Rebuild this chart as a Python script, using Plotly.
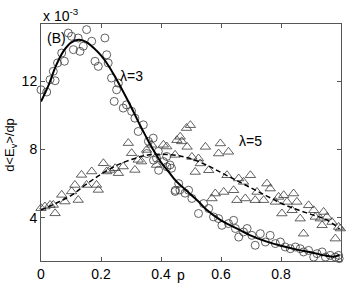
import plotly.graph_objects as go

# lambda = 3 fitted curve (units of 1e-3)
fit3_p = [0, 0.025, 0.05, 0.075, 0.1, 0.125, 0.15, 0.175, 0.2, 0.225, 0.25, 0.275, 0.3, 0.325,
          0.35, 0.375, 0.4, 0.425, 0.45, 0.475, 0.5, 0.525, 0.55, 0.6, 0.65, 0.7, 0.75, 0.8,
          0.85, 0.9, 0.95, 0.975, 0.995]
fit3_y = [10.8, 11.75, 12.9, 13.75, 14.25, 14.42, 14.3, 13.95, 13.5, 12.9, 12.15, 11.35, 10.5, 9.6,
          8.75, 7.95, 7.25, 6.7, 6.15, 5.75, 5.35, 4.95, 4.5, 3.85, 3.4, 2.95, 2.62, 2.36,
          2.15, 1.98, 1.78, 1.72, 1.82]

# lambda = 5 fitted curve
fit5_p = [0, 0.05, 0.1, 0.15, 0.2, 0.25, 0.3, 0.35, 0.4, 0.45, 0.5, 0.55, 0.6, 0.65, 0.7, 0.75,
          0.8, 0.85, 0.9, 0.95, 0.995]
fit5_y = [4.45, 4.85, 5.3, 5.95, 6.55, 7.05, 7.4, 7.65, 7.72, 7.65, 7.45, 7.1, 6.65, 6.2, 5.75,
          5.3, 4.85, 4.5, 4.2, 3.9, 3.35]

# lambda = 3 simulation data (circles)
sim3_p = [0.000, 0.019, 0.030, 0.047, 0.041, 0.055, 0.069, 0.078, 0.091, 0.102, 0.124, 0.108,
          0.130, 0.141, 0.152, 0.163, 0.169, 0.180, 0.191, 0.213, 0.219, 0.224, 0.235, 0.252,
          0.258, 0.244, 0.274, 0.285, 0.302, 0.313, 0.324, 0.341, 0.358, 0.374, 0.385, 0.391,
          0.408, 0.419, 0.430, 0.435, 0.447, 0.463, 0.480, 0.353, 0.375, 0.392, 0.420, 0.448,
          0.459, 0.492, 0.503, 0.525, 0.542, 0.559, 0.575, 0.592, 0.603, 0.625, 0.642, 0.648,
          0.659, 0.675, 0.687, 0.703, 0.714, 0.731, 0.748, 0.764, 0.781, 0.798, 0.814, 0.831,
          0.848, 0.864, 0.875, 0.892, 0.909, 0.920, 0.937, 0.948, 0.964, 0.981, 0.994, 0.992]
sim3_y = [11.49, 11.36, 12.08, 12.02, 12.57, 13.06, 13.64, 13.16, 14.81, 14.62, 14.52, 13.84,
          13.74, 14.04, 15.01, 15.38, 14.33, 13.16, 12.86, 14.52, 13.54, 13.06, 12.18, 11.49,
          11.88, 10.81, 10.42, 10.61, 10.23, 9.83, 9.05, 9.44, 8.47, 8.66, 7.49, 7.88,
          7.29, 7.59, 7.09, 6.90, 5.54, 5.63, 5.44, 7.76, 7.37, 6.78, 6.98, 5.61,
          6.00, 5.61, 5.13, 4.25, 4.83, 4.54, 4.05, 3.95, 3.56, 3.66, 3.85, 3.37,
          2.87, 3.17, 3.37, 2.97, 2.39, 3.07, 2.58, 2.97, 2.49, 2.58, 2.29, 2.19,
          2.29, 2.19, 2.00, 2.09, 1.70, 1.90, 2.00, 1.70, 1.80, 1.70, 1.61, 1.80]

# lambda = 5 simulation data (triangles)
sim5_p = [0.000, 0.013, 0.030, 0.047, 0.041, 0.069, 0.080, 0.102, 0.113, 0.124, 0.135, 0.152,
          0.169, 0.185, 0.191, 0.208, 0.219, 0.230, 0.247, 0.258, 0.274, 0.291, 0.302, 0.313,
          0.324, 0.335, 0.352, 0.369, 0.385, 0.408, 0.419, 0.447, 0.469, 0.485, 0.498, 0.464,
          0.453, 0.548, 0.598, 0.487, 0.503, 0.525, 0.514, 0.531, 0.559, 0.592, 0.625, 0.570,
          0.581, 0.609, 0.620, 0.642, 0.653, 0.659, 0.675, 0.681, 0.698, 0.714, 0.720, 0.742,
          0.753, 0.764, 0.781, 0.792, 0.809, 0.803, 0.820, 0.837, 0.842, 0.853, 0.864, 0.875,
          0.892, 0.909, 0.914, 0.931, 0.942, 0.953, 0.937, 0.970, 0.981, 0.992, 0.998]
sim5_y = [4.56, 4.66, 4.75, 4.26, 4.75, 5.34, 4.95, 5.54, 5.92, 5.04, 6.51, 5.92,
          6.71, 5.92, 5.63, 7.19, 6.71, 6.80, 6.90, 6.61, 7.00, 8.37, 7.78, 6.80,
          7.39, 7.29, 7.97, 8.27, 7.09, 8.27, 8.17, 7.68, 8.47, 9.25, 9.42, 8.74,
          8.54, 8.15, 8.35, 8.15, 7.56, 7.47, 6.68, 7.18, 6.78, 7.76, 7.86, 5.13,
          5.42, 5.51, 6.49, 5.61, 5.03, 6.30, 6.10, 5.13, 6.49, 5.03, 5.51, 5.03,
          6.00, 5.71, 4.93, 5.22, 5.32, 4.25, 4.93, 4.44, 5.42, 4.93, 3.95, 3.07,
          4.73, 4.44, 4.05, 3.95, 4.34, 4.05, 3.56, 3.75, 2.78, 3.46, 3.37]

x_ticks = [0, 0.2, 0.4, 0.6, 0.8]
x_tick_text = ["0", "0.2", "0.4", "0.6", "0.8"]
y_ticks = [4, 8, 12]
y_tick_text = ["4", "8", "12"]

FONT = "Liberation Sans, Arial, sans-serif"
mcol = "#3a3a3a"

fig = go.Figure()
fig.add_trace(go.Scatter(x=sim3_p, y=sim3_y, mode="markers", cliponaxis=False,
                         marker=dict(symbol="circle-open", size=8, color=mcol,
                                     line=dict(width=0.8, color=mcol))))
fig.add_trace(go.Scatter(x=sim5_p, y=sim5_y, mode="markers", cliponaxis=False,
                         marker=dict(symbol="triangle-up-open", size=9, color=mcol,
                                     line=dict(width=0.8, color=mcol))))
fig.add_trace(go.Scatter(x=fit5_p, y=fit5_y, mode="lines", line_shape="spline",
                         line=dict(color="black", width=1.5, dash="5px,3px")))
fig.add_trace(go.Scatter(x=fit3_p, y=fit3_y, mode="lines", line_shape="spline",
                         line=dict(color="black", width=2)))

axcol = "#555555"
fig.update_layout(
    width=346, height=286,
    margin=dict(l=41, r=5, t=24, b=25),
    paper_bgcolor="white", plot_bgcolor="white",
    showlegend=False,
    font=dict(family=FONT, size=14, color="black"),
    xaxis=dict(range=[0, 1], tickvals=x_ticks, ticktext=x_tick_text,
               ticks="inside", ticklen=4, tickcolor=axcol, showline=True, linecolor=axcol,
               linewidth=1, mirror="ticks", showgrid=False, zeroline=False,
               tickfont=dict(size=14)),
    yaxis=dict(range=[1.47, 15.34], tickvals=y_ticks, ticktext=y_tick_text,
               ticks="inside", ticklen=4, tickcolor=axcol, showline=True, linecolor=axcol,
               linewidth=1, mirror="ticks", showgrid=False, zeroline=False,
               tickfont=dict(size=14)),
    annotations=[
        dict(text="d&lt;E<sub>v</sub>&gt;/dp", textangle=-90, xref="paper", yref="paper",
             x=-0.1, y=0.49, xanchor="center", yanchor="middle", showarrow=False,
             font=dict(size=13)),
        dict(text="x 10<sup>-3</sup>", xref="paper", yref="paper", x=0.0, y=1.0,
             xanchor="left", yanchor="bottom", showarrow=False, font=dict(size=14), yshift=-2),
        dict(text="(B)", xref="paper", yref="paper", x=0.012, y=0.985,
             xanchor="left", yanchor="top", showarrow=False, font=dict(size=14)),
        dict(text="λ=3", xref="x", yref="y", x=0.255, y=12.3,
             xanchor="left", yanchor="middle", showarrow=False, font=dict(size=14)),
        dict(text="λ=5", xref="x", yref="y", x=0.652, y=8.5,
             xanchor="left", yanchor="middle", showarrow=False, font=dict(size=14)),
        dict(text="p", xref="x", yref="paper", x=0.465, y=0, yshift=-4,
             xanchor="center", yanchor="top", showarrow=False, font=dict(size=14)),
    ],
)

fig.write_html("out.html", config={"displayModeBar": False},
               post_script="document.body.style.margin='0';document.body.style.padding='0';")
